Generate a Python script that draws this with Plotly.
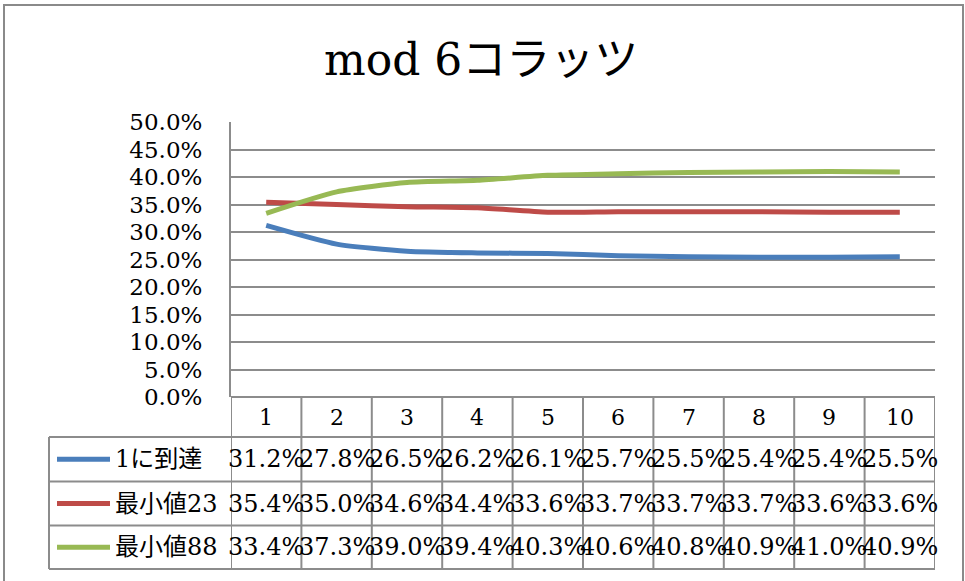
import plotly.graph_objects as go

W, H = 965, 581

categories = [1, 2, 3, 4, 5, 6, 7, 8, 9, 10]
series_names = ["1に到達", "最小値23", "最小値88"]
reach_one = [0.312, 0.278, 0.265, 0.262, 0.261, 0.257, 0.255, 0.254, 0.254, 0.255]
min_23 = [0.354, 0.350, 0.346, 0.344, 0.336, 0.337, 0.337, 0.337, 0.336, 0.336]
min_88 = [0.334, 0.373, 0.390, 0.394, 0.403, 0.406, 0.408, 0.409, 0.410, 0.409]
series_values = [reach_one, min_23, min_88]
colors = ["#4A7EBB", "#BE4B48", "#98B954"]
title_text = "mod 6コラッツ"

FONT = "DejaVu Serif, Noto Sans CJK JP, serif"
GRID = "#8C8C8C"

def px(x):
    return x / W

def py(y):
    return 1 - y / H

# layout geometry (pixels)
PL, PR, PT, PB = 231, 935, 122, 397
TAB_LEFT = 49
ROW_Y = [397, 437, 481.5, 525.5, 569]

fig = go.Figure()
for name, vals, c in zip(series_names, series_values, colors):
    fig.add_trace(go.Scatter(
        x=categories, y=vals, mode="lines", name=name,
        line=dict(color=c, width=5, shape="spline", smoothing=0.6),
        showlegend=False, hoverinfo="skip",
    ))

shapes = []
annotations = []

# outer border
shapes.append(dict(type="rect", xref="paper", yref="paper",
                   x0=px(4), x1=px(963), y0=-0.05, y1=py(5),
                   line=dict(color="#8A8A8A", width=2), layer="below"))

# table horizontal lines
shapes.append(dict(type="line", xref="paper", yref="paper",
                   x0=px(PL), x1=px(PR), y0=py(ROW_Y[0]), y1=py(ROW_Y[0]),
                   line=dict(color=GRID, width=2)))
for ry in ROW_Y[1:]:
    shapes.append(dict(type="line", xref="paper", yref="paper",
                       x0=px(TAB_LEFT), x1=px(PR), y0=py(ry), y1=py(ry),
                       line=dict(color=GRID, width=2)))
# table vertical lines (column boundaries via x axis)
for i in range(len(categories) + 1):
    xb = categories[0] - 0.5 + i
    shapes.append(dict(type="line", xref="x", yref="paper",
                       x0=xb, x1=xb, y0=py(ROW_Y[0]), y1=py(ROW_Y[-1]),
                       line=dict(color=GRID, width=2)))
shapes.append(dict(type="line", xref="paper", yref="paper",
                   x0=px(TAB_LEFT), x1=px(TAB_LEFT), y0=py(ROW_Y[1]), y1=py(ROW_Y[-1]),
                   line=dict(color=GRID, width=2)))

# header labels
hy = (ROW_Y[0] + ROW_Y[1]) / 2
for c in categories:
    annotations.append(dict(x=c, y=py(hy), xref="x", yref="paper",
                            text=str(c), showarrow=False,
                            font=dict(family=FONT, size=22, color="#000"),
                            xanchor="center", yanchor="middle"))

# data rows
for r, (name, vals, col) in enumerate(zip(series_names, series_values, colors)):
    cy = (ROW_Y[r + 1] + ROW_Y[r + 2]) / 2
    shapes.append(dict(type="line", xref="paper", yref="paper",
                       x0=px(57), x1=px(110), y0=py(cy), y1=py(cy),
                       line=dict(color=col, width=5)))
    annotations.append(dict(x=px(113), y=py(cy), xref="paper", yref="paper",
                            text=name, showarrow=False,
                            font=dict(family=FONT, size=24, color="#000"),
                            xanchor="left", yanchor="middle"))
    for c, v in zip(categories, vals):
        annotations.append(dict(x=c, y=py(cy), xref="x", yref="paper",
                                text=f"{v*100:.1f}%", showarrow=False,
                                font=dict(family=FONT, size=24, color="#000"),
                                xanchor="center", yanchor="middle"))

# title
annotations.append(dict(x=px(481), y=py(60), xref="paper", yref="paper",
                        text=title_text, showarrow=False,
                        font=dict(family=FONT, size=44, color="#000"),
                        xanchor="center", yanchor="middle"))

fig.update_layout(
    width=W, height=H,
    margin=dict(l=0, r=0, t=0, b=0, autoexpand=False),
    paper_bgcolor="white", plot_bgcolor="white",
    shapes=shapes, annotations=annotations,
    xaxis=dict(domain=[px(PL), px(PR)], range=[0.5, 10.5],
               showticklabels=False, showgrid=False, zeroline=False,
               showline=False, fixedrange=True, automargin=False),
    yaxis=dict(domain=[py(PB), py(PT)], range=[0, 0.5], dtick=0.05,
               tickformat=".1%", showgrid=True, gridcolor=GRID, gridwidth=2,
               zeroline=False, showline=True, linecolor=GRID, linewidth=2,
               ticks="", ticklabelstandoff=22, automargin=False,
               tickfont=dict(family=FONT, size=23, color="#000"),
               fixedrange=True),
)

fig.write_html(
    "out.html",
    config={"displayModeBar": False},
    post_script="document.body.style.margin='0';document.body.style.overflow='hidden';",
)
